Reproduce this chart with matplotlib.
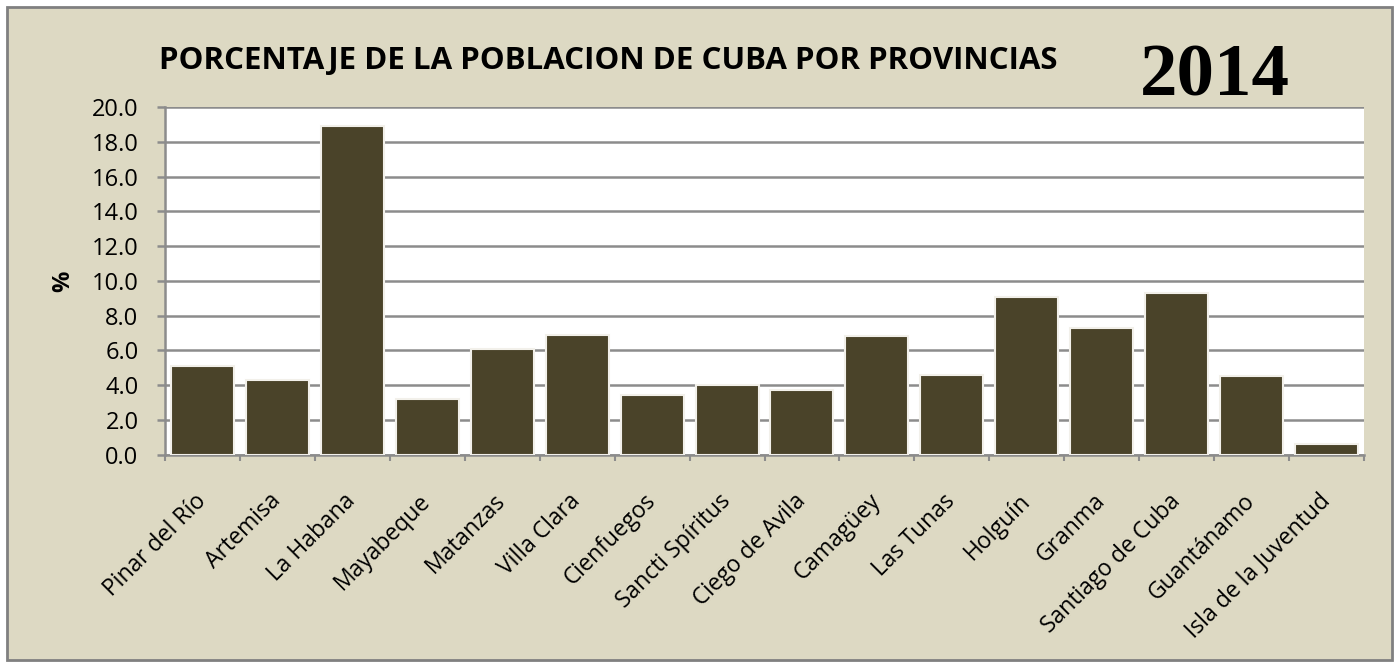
import matplotlib
matplotlib.use('Agg')
import numpy as np
import matplotlib.pyplot as plt
from matplotlib.patches import Rectangle

provincias = ['Pinar del Río', 'Artemisa', 'La Habana', 'Mayabeque', 'Matanzas', 'Villa Clara',
              'Cienfuegos', 'Sancti Spíritus', 'Ciego de Avila', 'Camagüey', 'Las Tunas', 'Holguín',
              'Granma', 'Santiago de Cuba', 'Guantánamo', 'Isla de la Juventud']
porcentaje = [5.1, 4.3, 18.9, 3.2, 6.1, 6.9, 3.4, 4.0, 3.7, 6.8, 4.6, 9.1, 7.3, 9.3, 4.5, 0.6]
y_ticks = [0, 2, 4, 6, 8, 10, 12, 14, 16, 18, 20]

BEIGE = '#ddd9c3'
BAR = '#4a4329'
GRID = '#8c8c8c'

plt.rcParams['font.family'] = ['Open Sans', 'DejaVu Sans']

W, H = 1398, 665
fig = plt.figure(figsize=(W / 100, H / 100), dpi=100, facecolor='white')

# beige frame around the whole chart (behind the axes)
frame = Rectangle((7 / W, 5 / H), 1385 / W, 653 / H, transform=fig.transFigure,
                  facecolor=BEIGE, edgecolor='#808080', linewidth=2, zorder=-10)
fig.patches.append(frame)

ax = fig.add_axes([165 / W, (H - 454.5) / H, 1199 / W, 347.2 / H])
ax.set_facecolor('white')
x = np.arange(len(provincias))
ax.bar(x, porcentaje, width=0.84, color=BAR, edgecolor='#f2f0ea', linewidth=1.5, zorder=3)

ax.set_xlim(-0.5, len(provincias) - 0.5)
ax.set_ylim(0, 20)
ax.set_yticks(y_ticks)
ax.set_yticklabels([f'{v:.1f}' for v in y_ticks])
ax.yaxis.grid(True, color=GRID, linewidth=1.8, zorder=0)
ax.set_axisbelow(True)

ax.set_xticks(x)
ax.set_xticklabels(provincias, rotation=45, ha='right', va='center', rotation_mode='anchor',
                   fontsize=16.5)
ax.set_xticks(np.arange(len(provincias) + 1) - 0.5, minor=True)
ax.tick_params(axis='x', which='major', length=0, pad=31)
ax.tick_params(axis='x', which='minor', length=4, color=GRID, width=1.5)
ax.tick_params(axis='y', length=6, color=GRID, width=1.8, labelsize=17, pad=13)

for side in ['top', 'right']:
    ax.spines[side].set_visible(False)
for side in ['left', 'bottom']:
    ax.spines[side].set_color(GRID)
    ax.spines[side].set_linewidth(1.8)

ax.set_ylabel('%', fontsize=17, fontweight='bold', labelpad=12)

fig.text(608 / W, 1 - 61 / H, 'PORCENTAJE DE LA POBLACION DE CUBA POR PROVINCIAS',
         ha='center', va='center', fontsize=22.5, fontweight='bold')
fig.text(1215 / W, 1 - 77 / H, '2014', ha='center', va='center', fontsize=54,
         fontweight='bold', family=['Liberation Serif', 'DejaVu Serif'])

fig.savefig('out.png', dpi=100, facecolor='white')
